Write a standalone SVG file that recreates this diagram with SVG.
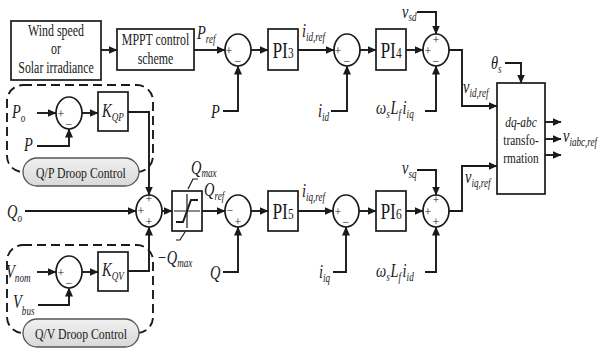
<svg xmlns="http://www.w3.org/2000/svg" width="598" height="354" viewBox="0 0 598 354">
<defs>
<marker id="ah" markerWidth="9" markerHeight="8" refX="8.5" refY="4" orient="auto" markerUnits="userSpaceOnUse">
<path d="M0,0 L9,4 L0,8 Z" fill="#1a1a1a"/>
</marker>
<linearGradient id="pg" x1="0" y1="0" x2="0" y2="1">
<stop offset="0" stop-color="#f0f0f0"/>
<stop offset="1" stop-color="#d9d9d9"/>
</linearGradient>
</defs>
<style>
text{font-family:"Liberation Serif","Times New Roman",serif;fill:#1a1a1a}
.box{fill:#fff;stroke:#1a1a1a;stroke-width:1.7}
.sum{fill:#fff;stroke:#1a1a1a;stroke-width:1.7}
.ln{fill:none;stroke:#1a1a1a;stroke-width:1.9}
.ar{fill:none;stroke:#1a1a1a;stroke-width:1.9;marker-end:url(#ah)}
.dash{fill:none;stroke:#1a1a1a;stroke-width:1.9;stroke-dasharray:9 5}
.pill{fill:url(#pg);stroke:#555;stroke-width:1.3}
.tc{font-size:16.5px;text-anchor:middle}
.pi{font-size:23px;text-anchor:middle}
.v{font-size:19px;font-style:italic}
.vc{font-size:19px;font-style:italic;text-anchor:middle}
.s{font-size:12px;font-style:italic}
.sg{font-size:12px;text-anchor:middle}
.dq{font-size:15px;text-anchor:middle}
.dl{font-size:15.5px;text-anchor:middle}
</style>

<g id="connectors">
<path class="ar" d="M101,50 H117"/>
<path class="ar" d="M194,50 H225"/>
<path class="ar" d="M251,50 H268"/>
<path class="ar" d="M298,50 H334"/>
<path class="ar" d="M360,50 H376"/>
<path class="ar" d="M406,50 H423"/>
<path class="ar" d="M449,50 H462 V106 H497"/>
<path class="ar" d="M223,111 H238 V66"/>
<path class="ar" d="M331,111 H347 V66"/>
<path class="ar" d="M417,12 H436 V34"/>
<path class="ar" d="M425,111 H436 V66"/>
<path class="ar" d="M505,63 H521 V83"/>
<path class="ar" d="M545,122 H561"/>
<path class="ar" d="M545,139 H561"/>
<path class="ar" d="M545,155 H561"/>
<path class="ar" d="M37,113 H56"/>
<path class="ar" d="M37,146 H69 V129"/>
<path class="ar" d="M82,113 H98"/>
<path class="ar" d="M128,112 H149 V195"/>
<path class="ar" d="M25,211 H136"/>
<path class="ar" d="M162,211 H172"/>
<path class="ar" d="M202,211 H225"/>
<path class="ar" d="M251,211 H268"/>
<path class="ar" d="M223,272 H238 V227"/>
<path class="ar" d="M298,211 H333"/>
<path class="ar" d="M333,272 H346 V227"/>
<path class="ar" d="M359,211 H376"/>
<path class="ar" d="M406,211 H423"/>
<path class="ar" d="M417,170 H436 V195"/>
<path class="ar" d="M425,272 H436 V227"/>
<path class="ar" d="M449,211 H462 V166 H497"/>
<path class="ar" d="M37,272 H56"/>
<path class="ar" d="M38,305 H69 V288"/>
<path class="ar" d="M82,272 H98"/>
<path class="ar" d="M128,271 H149 V227"/>
</g>

<g id="qp-group">
<rect class="dash" x="7" y="85" width="146" height="87" rx="16"/>
<rect class="pill" x="23" y="158" width="116" height="28" rx="14"/>
<text class="dl" transform="translate(81,178) scale(.76,1)">Q/P Droop Control</text>
</g>
<g id="qv-group">
<rect class="dash" x="7" y="245" width="146" height="88" rx="16"/>
<rect class="pill" x="23" y="319" width="116" height="28" rx="14"/>
<text class="dl" transform="translate(81,339) scale(.76,1)">Q/V Droop Control</text>
</g>

<g id="wind">
<rect class="box" x="11" y="21" width="90" height="59"/>
<text class="tc" transform="translate(56,36) scale(.72,1)">Wind speed</text>
<text class="tc" transform="translate(56,54) scale(.72,1)">or</text>
<text class="tc" transform="translate(56,73) scale(.72,1)">Solar irradiance</text>
</g>
<g id="mppt">
<rect class="box" x="117" y="29" width="77" height="41"/>
<text class="tc" transform="translate(155.5,45) scale(.72,1)">MPPT control</text>
<text class="tc" transform="translate(155.5,64) scale(.72,1)">scheme</text>
</g>

<g id="sum1">
<ellipse class="sum" cx="238" cy="50" rx="13" ry="16"/>
<text class="sg" x="229" y="55">+</text>
<text class="sg" x="238" y="65">−</text>
</g>
<g id="pi3">
<rect class="box" x="268" y="29" width="30" height="41"/>
<text class="pi" transform="translate(283,58) scale(.76,1)">PI<tspan style="font-size:15px">3</tspan></text>
</g>
<g id="sum2">
<ellipse class="sum" cx="347" cy="50" rx="13" ry="16"/>
<text class="sg" x="338" y="55">+</text>
<text class="sg" x="347" y="65">−</text>
</g>
<g id="pi4">
<rect class="box" x="376" y="29" width="30" height="41"/>
<text class="pi" transform="translate(391,58) scale(.76,1)">PI<tspan style="font-size:15px">4</tspan></text>
</g>
<g id="sum3">
<ellipse class="sum" cx="436" cy="50" rx="13" ry="16"/>
<text class="sg" x="436" y="44">+</text>
<text class="sg" x="428" y="55">+</text>
<text class="sg" x="436" y="65">−</text>
</g>
<g id="dqabc">
<rect class="box" x="497" y="83" width="48" height="111"/>
<text class="dq" transform="translate(521,127) scale(.76,1)" font-style="italic">dq-abc</text>
<text class="dq" transform="translate(521,145) scale(.76,1)">transfo-</text>
<text class="dq" transform="translate(521,163) scale(.76,1)">rmation</text>
</g>

<g id="sumpo">
<ellipse class="sum" cx="69" cy="113" rx="13" ry="16"/>
<text class="sg" x="61" y="118">+</text>
<text class="sg" x="69" y="128">−</text>
</g>
<g id="kqp">
<rect class="box" x="98" y="92" width="30" height="39"/>
<text class="vc" transform="translate(113,117) scale(.76,1)">K<tspan class="s" dy="4">QP</tspan></text>
</g>

<g id="summain">
<ellipse class="sum" cx="149" cy="211" rx="13" ry="16"/>
<text class="sg" x="149" y="203">+</text>
<text class="sg" x="141" y="215">+</text>
<text class="sg" x="149" y="226">+</text>
</g>
<g id="sat">
<rect class="box" x="172" y="191" width="30" height="40"/>
<path class="ln" style="stroke-width:1.2" d="M174,211 H200 M187,194 V228"/>
<path class="ln" d="M176,222 H183 L191,200 H198"/>
<path class="ln" style="stroke-width:1.2" d="M198,179 H193 L188,189 M185,232 L180,240 H176"/>
</g>
<g id="sumq">
<ellipse class="sum" cx="238" cy="211" rx="13" ry="16"/>
<text class="sg" x="230" y="214">−</text>
<text class="sg" x="238" y="226">+</text>
</g>
<g id="pi5">
<rect class="box" x="268" y="191" width="30" height="40"/>
<text class="pi" transform="translate(283,219) scale(.76,1)">PI<tspan style="font-size:15px">5</tspan></text>
</g>
<g id="sumiq">
<ellipse class="sum" cx="346" cy="211" rx="13" ry="16"/>
<text class="sg" x="338" y="216">+</text>
<text class="sg" x="346" y="226">−</text>
</g>
<g id="pi6">
<rect class="box" x="376" y="191" width="30" height="40"/>
<text class="pi" transform="translate(391,219) scale(.76,1)">PI<tspan style="font-size:15px">6</tspan></text>
</g>
<g id="sum4">
<ellipse class="sum" cx="436" cy="211" rx="13" ry="16"/>
<text class="sg" x="436" y="204">+</text>
<text class="sg" x="428" y="216">+</text>
<text class="sg" x="436" y="226">+</text>
</g>

<g id="sumv">
<ellipse class="sum" cx="69" cy="272" rx="13" ry="16"/>
<text class="sg" x="61" y="277">+</text>
<text class="sg" x="69" y="287">−</text>
</g>
<g id="kqv">
<rect class="box" x="98" y="252" width="30" height="39"/>
<text class="vc" transform="translate(113,276) scale(.76,1)">K<tspan class="s" dy="4">QV</tspan></text>
</g>

<g id="labels">
<text class="v" transform="translate(197,39) scale(.76,1)">P<tspan class="s" dy="4">ref</tspan></text>
<text class="v" transform="translate(211,118) scale(.76,1)">P</text>
<text class="v" transform="translate(302,37) scale(.76,1)">i<tspan class="s" dy="4">id,ref</tspan></text>
<text class="v" transform="translate(318,117) scale(.76,1)">i<tspan class="s" dy="4">id</tspan></text>
<text class="v" transform="translate(402,18) scale(.76,1)">v<tspan class="s" dy="3">sd</tspan></text>
<text class="v" transform="translate(376,114) scale(.76,1)">ω<tspan class="s" dy="4">s</tspan><tspan dx="1" dy="-4">L</tspan><tspan class="s" dy="4">f</tspan><tspan dx="2" dy="-4">i</tspan><tspan class="s" dy="4">iq</tspan></text>
<text class="v" transform="translate(491,69) scale(.76,1)">θ<tspan class="s" dy="4">s</tspan></text>
<text class="v" transform="translate(463,93) scale(.76,1)">v<tspan class="s" dy="4">id,ref</tspan></text>
<text class="v" transform="translate(563,142) scale(.76,1)">v<tspan class="s" dy="4">iabc,ref</tspan></text>
<text class="v" transform="translate(12,118) scale(.76,1)">P<tspan class="s" dy="4">o</tspan></text>
<text class="v" transform="translate(24,151) scale(.76,1)">P</text>
<text class="v" transform="translate(7,218) scale(.76,1)">Q<tspan class="s" dy="4">o</tspan></text>
<text class="v" transform="translate(191,174) scale(.76,1)">Q<tspan class="s" dy="3">max</tspan></text>
<text class="v" transform="translate(157,264) scale(.76,1)">−Q<tspan class="s" dy="3">max</tspan></text>
<text class="v" transform="translate(204,196) scale(.76,1)">Q<tspan class="s" dy="4">ref</tspan></text>
<text class="v" transform="translate(210,279) scale(.76,1)">Q</text>
<text class="v" transform="translate(302,197) scale(.76,1)">i<tspan class="s" dy="4">iq,ref</tspan></text>
<text class="v" transform="translate(319,278) scale(.76,1)">i<tspan class="s" dy="4">iq</tspan></text>
<text class="v" transform="translate(402,174) scale(.76,1)">v<tspan class="s" dy="4">sq</tspan></text>
<text class="v" transform="translate(465,183) scale(.76,1)">v<tspan class="s" dy="4">iq,ref</tspan></text>
<text class="v" transform="translate(376,277) scale(.76,1)">ω<tspan class="s" dy="4">s</tspan><tspan dx="1" dy="-4">L</tspan><tspan class="s" dy="4">f</tspan><tspan dx="2" dy="-4">i</tspan><tspan class="s" dy="4">id</tspan></text>
<text class="v" transform="translate(6,278) scale(.76,1)">V<tspan class="s" dy="4">nom</tspan></text>
<text class="v" transform="translate(13,308) scale(.76,1)">V<tspan class="s" dy="7">bus</tspan></text>
</g>
</svg>
